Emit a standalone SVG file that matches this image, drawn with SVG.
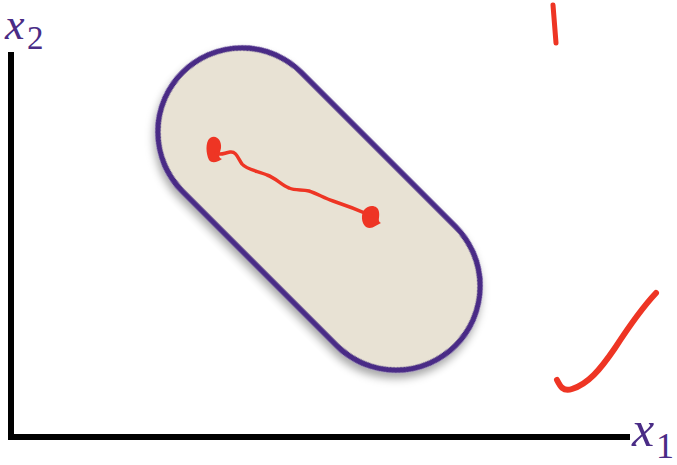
<svg xmlns="http://www.w3.org/2000/svg" width="677" height="465" viewBox="0 0 677 465">
  <style>
    .axis { stroke: #000; stroke-width: 6; fill: none; }
    .lbl { font-family: "Liberation Serif", "Times New Roman", serif; fill: #4a2c86; }
    .var { font-style: italic; font-size: 50px; }
    .sub { font-size: 36px; }
    .ink { stroke: #ee3524; fill: none; stroke-linecap: round; stroke-linejoin: round; }
    .blob { fill: #ee3524; }
  </style>
  <defs>
    <filter id="shadow" x="-20%" y="-20%" width="140%" height="140%">
      <feDropShadow dx="3" dy="5" stdDeviation="4" flood-color="#000" flood-opacity="0.35"/>
    </filter>
  </defs>
  <rect width="677" height="465" fill="#fff"/>

  <g id="axes">
    <path class="axis" d="M11,52 V437 H630"/>
  </g>

  <g id="label-x2">
    <text class="lbl var" x="5" y="39" style="font-size:44px">x</text>
    <text class="lbl sub" x="27" y="49" style="font-size:33px">2</text>
  </g>
  <g id="label-x1">
    <text class="lbl var" x="632" y="446">x</text>
    <text class="lbl sub" x="656" y="458">1</text>
  </g>

  <g id="capsule" transform="translate(319,209) rotate(45)">
    <rect x="-193" y="-84" width="386" height="168" rx="84" ry="84" fill="#e8e2d4" stroke="#4a2c86" stroke-width="5.5" filter="url(#shadow)"/>
  </g>

  <g id="segment">
    <path class="blob" d="M210,138 C216,134 222,140 221,148 C220,154 217,157 222,159 C218,162 212,164 209,160 C206,154 205,142 210,138 Z"/>
    <path class="blob" d="M364,210 C369,204 378,205 379,212 C380,218 377,221 381,223 C376,225 372,230 366,227 C361,223 361,214 364,210 Z"/>
    <path class="ink" stroke-width="3.5" d="M216,153 C220,156 224,153 230,152 C236,151 238,158 242,164 C247,170 258,171 267,175 C276,178 281,185 289,188 C296,191 302,189 309,191 C318,194 324,198 333,201 C345,205 356,209 372,216"/>
  </g>

  <g id="tick-top">
    <path class="ink" stroke-width="5" d="M553,5 C554,18 555,30 556,43"/>
  </g>
  <g id="check">
    <path class="ink" stroke-width="6" d="M557,380 C560,386 563,392 572,389 C588,384 600,370 615,348 C628,328 640,310 656,293"/>
  </g>
</svg>
